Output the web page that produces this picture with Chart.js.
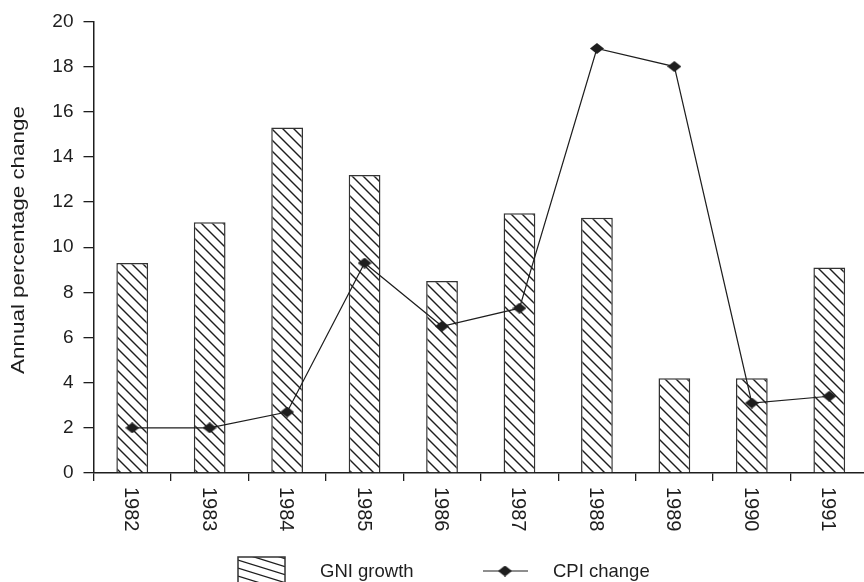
<!DOCTYPE html>
<html>
<head>
<meta charset="utf-8">
<script src="https://cdn.jsdelivr.net/npm/chart.js@4/dist/chart.umd.min.js"></script>
<style>
  html, body { margin: 0; padding: 0; background: #fff; overflow: hidden; width: 864px; height: 582px; }
  canvas { display: block; }
</style>
</head>
<body>
<canvas id="chart" width="880" height="600"></canvas>
<script>
// Annual GNI growth and CPI change, 1982-1991
const years = ['1982', '1983', '1984', '1985', '1986', '1987', '1988', '1989', '1990', '1991'];
const gniGrowth = [9.3, 11.1, 15.3, 13.2, 8.5, 11.5, 11.3, 4.2, 4.2, 9.1];
const cpiChange = [2.0, 2.0, 2.7, 9.3, 6.5, 7.3, 18.8, 18.0, 3.1, 3.4];
const yMin = 0, yMax = 20, yStep = 2;
const seriesNames = ['GNI growth', 'CPI change'];
const yTitle = 'Annual percentage change';

const INK = '#1e1e1e';
const FONT = '"Liberation Sans", Arial, sans-serif';

// diagonal hatching for the bars
function makeHatch() {
  const s = 11;
  const c = document.createElement('canvas');
  c.width = s; c.height = s;
  const g = c.getContext('2d');
  g.fillStyle = '#fff';
  g.fillRect(0, 0, s, s);
  g.strokeStyle = INK;
  g.lineWidth = 1.4;
  for (let k = -1; k <= 1; k++) {
    g.beginPath();
    g.moveTo(-1, k * s - 1);
    g.lineTo(s + 1, s + k * s + 1);
    g.stroke();
  }
  return g.createPattern(c, 'repeat');
}

// filled diamond marker
function makeDiamond(w, h) {
  const c = document.createElement('canvas');
  c.width = w; c.height = h;
  const g = c.getContext('2d');
  g.fillStyle = INK;
  g.beginPath();
  g.moveTo(w / 2, 0);
  g.lineTo(w, h / 2);
  g.lineTo(w / 2, h);
  g.lineTo(0, h / 2);
  g.closePath();
  g.fill();
  return c;
}

const hatch = makeHatch();
const diamond = makeDiamond(14, 11);

// rotated category labels, axis title and legend
const decorations = {
  id: 'decorations',
  afterDraw(chart) {
    const ctx = chart.ctx;
    const xs = chart.scales.x;
    const area = chart.chartArea;
    ctx.save();
    ctx.fillStyle = INK;

    // year labels, reading downward
    ctx.font = '20px ' + FONT;
    ctx.textAlign = 'left';
    ctx.textBaseline = 'alphabetic';
    years.forEach((y, i) => {
      const px = xs.getPixelForTick(i);
      ctx.save();
      ctx.translate(px - 7, area.bottom + 14);
      ctx.rotate(Math.PI / 2);
      ctx.fillText(y, 0, 0);
      ctx.restore();
    });

    // y axis title
    ctx.save();
    ctx.translate(24, 240);
    ctx.rotate(-Math.PI / 2);
    ctx.scale(1.28, 1);
    ctx.font = '17.5px ' + FONT;
    ctx.textAlign = 'center';
    ctx.fillText(yTitle, 0, 0);
    ctx.restore();

    // legend: hatched swatch
    const bx = 238, by = 557, bw = 47, bh = 40;
    ctx.save();
    ctx.beginPath();
    ctx.rect(bx, by, bw, bh);
    ctx.clip();
    ctx.fillStyle = '#fff';
    ctx.fillRect(bx, by, bw, bh);
    ctx.strokeStyle = INK;
    ctx.lineWidth = 1.3;
    for (let k = -8; k < 8; k++) {
      const y0 = by + 3 + k * 8;
      ctx.beginPath();
      ctx.moveTo(bx, y0);
      ctx.lineTo(bx + bw, y0 + bw * 0.31);
      ctx.stroke();
    }
    ctx.restore();
    ctx.strokeStyle = '#333';
    ctx.lineWidth = 1.5;
    ctx.strokeRect(bx, by, bw, bh);

    ctx.font = '18.5px ' + FONT;
    ctx.textAlign = 'left';
    ctx.fillStyle = INK;
    ctx.fillText(seriesNames[0], 320, 577);

    // legend: line with marker
    ctx.strokeStyle = INK;
    ctx.lineWidth = 1.2;
    ctx.beginPath();
    ctx.moveTo(483, 571);
    ctx.lineTo(528, 571);
    ctx.stroke();
    ctx.drawImage(diamond, 505 - 7, 571 - 5.5);
    ctx.fillText(seriesNames[1], 553, 577);

    ctx.restore();
  }
};

new Chart(document.getElementById('chart'), {
  type: 'bar',
  data: {
    labels: years,
    datasets: [
      {
        type: 'line',
        label: seriesNames[1],
        data: cpiChange,
        borderColor: INK,
        borderWidth: 1.2,
        tension: 0,
        pointStyle: diamond,
        pointRadius: 7,
        pointHoverRadius: 7,
        order: 0
      },
      {
        type: 'bar',
        label: seriesNames[0],
        data: gniGrowth,
        backgroundColor: hatch,
        borderColor: '#333',
        borderWidth: 1.5,
        barPercentage: 0.41,
        categoryPercentage: 1.0,
        order: 1
      }
    ]
  },
  options: {
    responsive: false,
    animation: false,
    events: [],
    layout: { padding: { left: 0, right: 12, top: 20, bottom: 0 } },
    plugins: {
      legend: { display: false },
      tooltip: { enabled: false }
    },
    scales: {
      x: {
        offset: true,
        grid: {
          offset: true,
          drawOnChartArea: false,
          drawTicks: true,
          tickLength: 8,
          color: INK,
          lineWidth: 1.3
        },
        border: { display: true, color: INK, width: 1.5 },
        ticks: { display: false },
        afterFit(scale) { scale.height = 127; }
      },
      y: {
        min: yMin,
        max: yMax,
        ticks: {
          stepSize: yStep,
          color: INK,
          padding: 10,
          font: { family: FONT, size: 19 }
        },
        grid: {
          drawOnChartArea: false,
          drawTicks: true,
          tickLength: 10,
          color: INK,
          lineWidth: 1.3
        },
        border: { display: true, color: INK, width: 1.5 },
        afterFit(scale) { scale.width = 93.5; }
      }
    }
  },
  plugins: [decorations]
});
</script>
</body>
</html>
